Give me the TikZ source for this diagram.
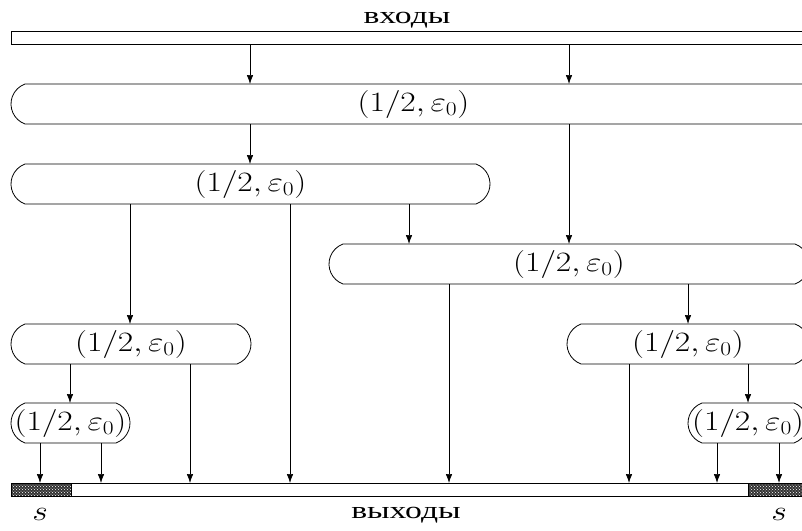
\documentclass[tikz,border=0pt]{standalone}
\usepackage{fix-cm}
\usepackage{graphicx}
\usepackage{fontspec}
\newfontfamily\cyr{Liberation Serif}
\newcommand{\hstr}[1]{\scalebox{1.2}[1]{#1}}
\newcommand{\cstr}[1]{\scalebox{1.4}[1]{#1}}
\usetikzlibrary{shapes.misc,arrows.meta,patterns}
\begin{document}
\begin{tikzpicture}[x=1pt,y=-1pt,
  proc/.style={rounded rectangle, rounded rectangle arc length=140, draw, line width=0.8pt,
    minimum height=40pt, inner sep=0pt, outer sep=0pt},
  bar/.style={rectangle, draw, line width=0.8pt, minimum width=805pt, minimum height=13pt, inner sep=0pt, outer sep=0pt},
  arr/.style={line width=0.7pt, -{Latex[length=9pt,width=6.5pt]}},
  mtxt/.style={font=\fontsize{28}{32}\selectfont},
  ctxt/.style={font=\cyr\fontsize{24}{28}\selectfont, anchor=base, inner sep=0pt}]
\useasboundingbox (0,0) rectangle (802,530);
\clip (0,0) rectangle (802,530);
% texts
\node[ctxt] (tin) at (407,23) {\cstr{входы}};
\node[ctxt] (tout) at (406,518) {\cstr{выходы}};
\node[mtxt, anchor=base, inner sep=0pt] (s1) at (40,520) {\hstr{$s$}};
\node[mtxt, anchor=base, inner sep=0pt] (s2) at (779,520) {\hstr{$s$}};
% bars
\node[bar] (in) at (413.5,37.5) {};
\node[bar] (out) at (413.5,489.5) {};
\fill[black!80] (out.north west) rectangle (71,496);
\fill[black!80] (748,483) rectangle (out.south east);
\fill[pattern=crosshatch dots, pattern color=white] (out.north west) rectangle (71,496);
\fill[pattern=crosshatch dots, pattern color=white] (748,483) rectangle (out.south east);
\draw[line width=0.8pt] (out.north west) rectangle (out.south east);
\draw[line width=0.8pt] (71,483) -- (71,496) (748,483) -- (748,496);
% boxes
\node[proc, minimum width=805pt, label={[mtxt]center:{\hstr{$(1/2,\varepsilon_0)$}}}] (b1) at (413.5,104) {};
\node[proc, minimum width=479pt, label={[mtxt]center:{\hstr{$(1/2,\varepsilon_0)$}}}] (b2) at (250.5,184) {};
\node[proc, minimum width=480pt, label={[mtxt]center:{\hstr{$(1/2,\varepsilon_0)$}}}] (b3) at (569,264) {};
\node[proc, minimum width=240pt, label={[mtxt]center:{\hstr{$(1/2,\varepsilon_0)$}}}] (b4) at (131,344) {};
\node[proc, minimum width=242pt, label={[mtxt]center:{\hstr{$(1/2,\varepsilon_0)$}}}] (b5) at (688,344) {};
\node[proc, minimum width=119pt, label={[mtxt]center:{\hstr{$(1/2,\varepsilon_0)$}}}] (b6) at (70.5,423) {};
\node[proc, minimum width=120pt, label={[mtxt]center:{\hstr{$(1/2,\varepsilon_0)$}}}] (b7) at (748,423) {};
% connectors
\draw[arr] (in.south -| 250,0) -- (b1.north -| 250,0);
\draw[arr] (in.south -| 569,0) -- (b1.north -| 569,0);
\draw[arr] (b1.south -| 250,0) -- (b2.north -| 250,0);
\draw[arr] (b1.south -| 569,0) -- (b3.north -| 569,0);
\draw[arr] (b2.south -| 130,0) -- (b4.north -| 130,0);
\draw[arr] (b2.south -| 290,0) -- (out.north -| 290,0);
\draw[arr] (b2.south -| 409,0) -- (b3.north -| 409,0);
\draw[arr] (b3.south -| 449,0) -- (out.north -| 449,0);
\draw[arr] (b3.south -| 688,0) -- (b5.north -| 688,0);
\draw[arr] (b4.south -| 70,0) -- (b6.north -| 70,0);
\draw[arr] (b4.south -| 190,0) -- (out.north -| 190,0);
\draw[arr] (b5.south -| 629,0) -- (out.north -| 629,0);
\draw[arr] (b5.south -| 748,0) -- (b7.north -| 748,0);
\draw[arr] (b6.south -| 40,0) -- (out.north -| 40,0);
\draw[arr] (b6.south -| 101,0) -- (out.north -| 101,0);
\draw[arr] (b7.south -| 717,0) -- (out.north -| 717,0);
\draw[arr] (b7.south -| 779,0) -- (out.north -| 779,0);
\end{tikzpicture}
\end{document}
